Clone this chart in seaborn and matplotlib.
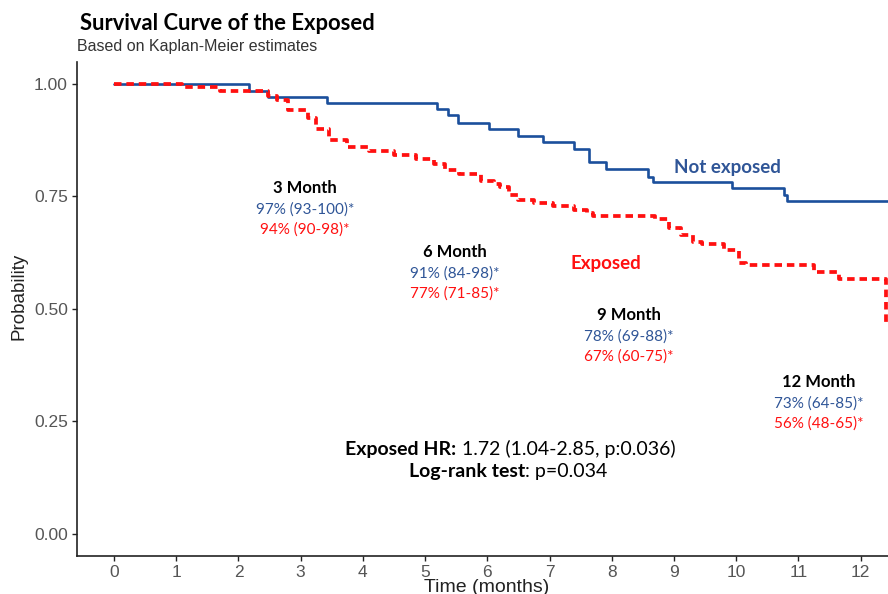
import matplotlib
matplotlib.use("Agg")
import matplotlib.pyplot as plt
from matplotlib.offsetbox import TextArea, HPacker, AnnotationBbox
import pandas as pd
import seaborn as sns

# Kaplan-Meier step estimates (time in months, survival probability after each event)
not_exposed_time = [0, 2.17, 2.48, 3.42, 5.19, 5.37, 5.53, 6.03, 6.50, 6.90, 7.40,
                    7.64, 7.91, 8.59, 8.67, 9.94, 10.77, 10.82, 12.6]
not_exposed_surv = [1.0, 0.985, 0.972, 0.957, 0.944, 0.931, 0.914, 0.899, 0.884, 0.870,
                    0.855, 0.827, 0.811, 0.794, 0.782, 0.768, 0.754, 0.739, 0.739]

exposed_time = [0, 1.10, 1.70, 2.48, 2.62, 2.80, 3.12, 3.25, 3.45, 3.75, 4.10, 4.50,
                4.85, 5.15, 5.32, 5.55, 5.90, 6.10, 6.20, 6.35, 6.50, 6.75, 7.05, 7.40,
                7.60, 7.70, 8.70, 8.92, 9.12, 9.30, 9.45, 9.80, 10.05, 10.15, 11.25,
                11.65, 12.40, 12.6]
exposed_surv = [1.0, 0.993, 0.985, 0.973, 0.965, 0.943, 0.924, 0.900, 0.876, 0.860,
                0.851, 0.842, 0.834, 0.823, 0.808, 0.800, 0.785, 0.778, 0.771, 0.753,
                0.742, 0.736, 0.728, 0.719, 0.712, 0.706, 0.699, 0.679, 0.665, 0.649,
                0.645, 0.630, 0.601, 0.597, 0.582, 0.566, 0.470, 0.470]

# Milestone survival with 95% CI
milestone_labels = ["3 Month", "6 Month", "9 Month", "12 Month"]
not_exposed_ci = ["97% (93-100)*", "91% (84-98)*", "78% (69-88)*", "73% (64-85)*"]
exposed_ci = ["94% (90-98)*", "77% (71-85)*", "67% (60-75)*", "56% (48-65)*"]

x_ticks = list(range(0, 13))
y_ticks = [0.00, 0.25, 0.50, 0.75, 1.00]
y_tick_labels = ["0.00", "0.25", "0.50", "0.75", "1.00"]

BLUE_LINE = "#1B4F9C"
BLUE_TEXT = "#2F5597"
RED = "#FF1010"
ANN_FONT = ["Lato", "DejaVu Sans"]
AX_FONT = ["Liberation Sans", "DejaVu Sans"]

sns.set_style("ticks")
plt.rcParams["font.family"] = AX_FONT

df = pd.concat([
    pd.DataFrame({"time": not_exposed_time, "surv": not_exposed_surv, "group": "Not exposed"}),
    pd.DataFrame({"time": exposed_time, "surv": exposed_surv, "group": "Exposed"}),
])

fig = plt.figure(figsize=(8.88, 5.94), dpi=100)
ax = fig.add_axes([77 / 888, 1 - 556 / 594, 1 - 77 / 888, (556 - 61.5) / 594])

sns.lineplot(data=df[df.group == "Not exposed"], x="time", y="surv",
             drawstyle="steps-post", color=BLUE_LINE, linewidth=1.9,
             errorbar=None, ax=ax, zorder=3)
sns.lineplot(data=df[df.group == "Exposed"], x="time", y="surv",
             drawstyle="steps-post", color=RED, linewidth=2.7,
             linestyle=(0, (2.0, 1.3)), errorbar=None, ax=ax, zorder=4)

ax.set_xlim(-0.595, 12.44)
ax.set_ylim(-0.05, 1.05)
ax.set_xticks(x_ticks)
ax.set_yticks(y_ticks)
ax.set_yticklabels(y_tick_labels)
ax.tick_params(axis="both", length=3.5, width=1.0, color="#222222",
               labelcolor="#555555", labelsize=12.5, pad=3)
sns.despine(ax=ax)
for side in ("left", "bottom"):
    ax.spines[side].set_color("#222222")
    ax.spines[side].set_linewidth(1.2)

ax.set_xlabel("Time (months)", fontsize=14, color="#222222")
ax.xaxis.label.set_va("center")
ax.xaxis.set_label_coords((487 - 77) / 811, -(587 - 556) / 494)
ax.set_ylabel("Probability", fontsize=13.5, color="#222222")
ax.yaxis.label.set_va("center")
ax.yaxis.set_label_coords(-(77 - 19) / 811, (556 - 297) / 494)

# Milestone annotations
mx = [3.07, 5.48, 8.28, 11.32]
my = [0.768, 0.626, 0.486, 0.336]
for x, y, lab, ne, ex in zip(mx, my, milestone_labels, not_exposed_ci, exposed_ci):
    ax.text(x, y, lab, ha="center", va="center", fontsize=12, fontweight="bold",
            family=ANN_FONT, color="black")
    ax.text(x, y - 0.0468, ne, ha="center", va="center", fontsize=11,
            family=ANN_FONT, color=BLUE_TEXT)
    ax.text(x, y - 0.0913, ex, ha="center", va="center", fontsize=11,
            family=ANN_FONT, color=RED)

# Group labels
ax.text(9.86, 0.815, "Not exposed", ha="center", va="center", fontsize=13.5,
        fontweight="bold", family=ANN_FONT, color=BLUE_TEXT)
ax.text(7.91, 0.601, "Exposed", ha="center", va="center", fontsize=13.5,
        fontweight="bold", family=ANN_FONT, color=RED)


def mixed_line(x, y, bold, regular):
    parts = HPacker(children=[
        TextArea(bold, textprops=dict(fontweight="bold", fontsize=14, family=ANN_FONT, color="black")),
        TextArea(regular, textprops=dict(fontsize=14, family=ANN_FONT, color="black")),
    ], align="baseline", pad=0, sep=0)
    ab = AnnotationBbox(parts, (x, y), xycoords="data", frameon=False,
                        box_alignment=(0.5, 0.5), pad=0)
    ax.add_artist(ab)


mixed_line(6.37, 0.189, "Exposed HR:", "\u00a01.72 (1.04-2.85, p:0.036)")
mixed_line(6.33, 0.138, "Log-rank test", ": p=0.034")

fig.text(80 / 888, 1 - 23 / 594, "Survival Curve of the Exposed", ha="left", va="center",
         fontsize=15.8, fontweight="bold", family=ANN_FONT, color="black")
fig.text(77 / 888, 1 - 46 / 594, "Based on Kaplan-Meier estimates", ha="left", va="center",
         fontsize=11.5, family=AX_FONT, color="#333333")

fig.savefig("out.png", dpi=100)
